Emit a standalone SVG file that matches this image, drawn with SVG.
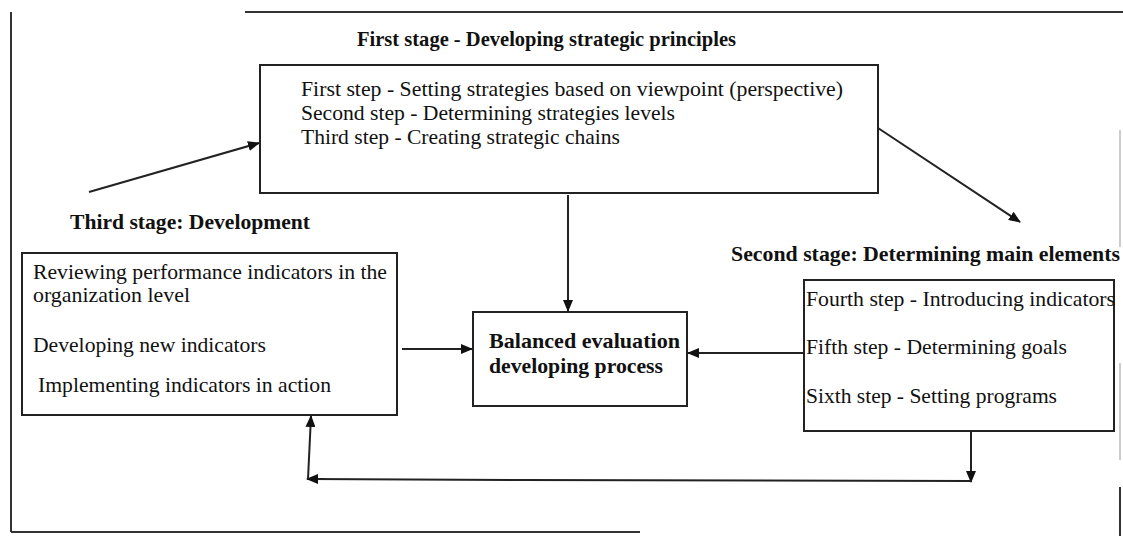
<svg xmlns="http://www.w3.org/2000/svg" width="1123" height="536" viewBox="0 0 1123 536">
<defs>
<marker id="ah" viewBox="0 0 12 10" refX="11" refY="5" markerWidth="12" markerHeight="10" markerUnits="userSpaceOnUse" orient="auto">
<path d="M0,0 L12,5 L0,10 Z" fill="#111"/>
</marker>
<style>
.box{fill:#fff;stroke:#222;stroke-width:2}
.t{font-family:"Liberation Serif","Times New Roman",serif;font-size:21.5px;fill:#111}
.b{font-family:"Liberation Serif","Times New Roman",serif;font-size:21.5px;font-weight:bold;fill:#111}
.c{fill:none;stroke:#222;stroke-width:2}
.f{fill:none;stroke:#333;stroke-width:2}
</style>
</defs>
<rect width="1123" height="536" fill="#fff"/>
<g id="frame">
<line class="f" x1="11" y1="12" x2="11" y2="532"/>
<line class="f" x1="11" y1="532" x2="640" y2="532"/>
<line class="f" x1="245" y1="12" x2="1123" y2="12" stroke="#555"/>
<line x1="1120" y1="130" x2="1120" y2="247" stroke="#bbb" stroke-width="1.5"/>
<line x1="1120" y1="363" x2="1120" y2="460" stroke="#bbb" stroke-width="1.5"/>
<line x1="1120" y1="487" x2="1120" y2="536" stroke="#333" stroke-width="2"/>
</g>
<g id="connectors">
<line class="c" x1="89" y1="192" x2="259" y2="143" marker-end="url(#ah)"/>
<line class="c" x1="878" y1="128" x2="1020" y2="222" marker-end="url(#ah)"/>
<line class="c" x1="568" y1="195" x2="568" y2="311" marker-end="url(#ah)"/>
<line class="c" x1="402" y1="349" x2="472" y2="349" marker-end="url(#ah)"/>
<line class="c" x1="804" y1="353" x2="688" y2="353" marker-end="url(#ah)"/>
<line class="c" x1="971" y1="431" x2="971" y2="482" marker-end="url(#ah)"/>
<polyline class="c" points="971,481 520,480 308,479"/>
<line class="c" x1="325" y1="479" x2="307" y2="479" marker-end="url(#ah)"/>
<line class="c" x1="308" y1="479" x2="311" y2="416" marker-end="url(#ah)"/>
</g>
<g id="stage1">
<text class="b" x="357" y="46" textLength="379" lengthAdjust="spacingAndGlyphs">First stage - Developing strategic principles</text>
<rect class="box" x="260" y="65" width="618" height="128"/>
<text class="t" x="301" y="96" textLength="542" lengthAdjust="spacingAndGlyphs">First step - Setting strategies based on viewpoint (perspective)</text>
<text class="t" x="301" y="120" textLength="374" lengthAdjust="spacingAndGlyphs">Second step - Determining strategies levels</text>
<text class="t" x="301" y="144" textLength="319" lengthAdjust="spacingAndGlyphs">Third step - Creating strategic chains</text>
</g>
<g id="stage3">
<text class="b" x="70" y="229" textLength="240" lengthAdjust="spacingAndGlyphs">Third stage: Development</text>
<rect class="box" x="22" y="253" width="375" height="162"/>
<text class="t" x="33" y="279" textLength="354" lengthAdjust="spacingAndGlyphs">Reviewing performance indicators in the</text>
<text class="t" x="33" y="302" textLength="157" lengthAdjust="spacingAndGlyphs">organization level</text>
<text class="t" x="33" y="352" textLength="233" lengthAdjust="spacingAndGlyphs">Developing new indicators</text>
<text class="t" x="38" y="392" textLength="293" lengthAdjust="spacingAndGlyphs">Implementing indicators in action</text>
</g>
<g id="center">
<rect class="box" x="473" y="312" width="214" height="94"/>
<text class="b" x="489" y="348" textLength="191" lengthAdjust="spacingAndGlyphs">Balanced evaluation</text>
<text class="b" x="489" y="373" textLength="174" lengthAdjust="spacingAndGlyphs">developing process</text>
</g>
<g id="stage2">
<text class="b" x="731" y="261" textLength="389" lengthAdjust="spacingAndGlyphs">Second stage: Determining main elements</text>
<rect class="box" x="804" y="280" width="310" height="151"/>
<text class="t" x="806" y="306" textLength="309" lengthAdjust="spacingAndGlyphs">Fourth step - Introducing indicators</text>
<text class="t" x="806" y="354" textLength="261" lengthAdjust="spacingAndGlyphs">Fifth step - Determining goals</text>
<text class="t" x="806" y="403" textLength="251" lengthAdjust="spacingAndGlyphs">Sixth step - Setting programs</text>
</g>
</svg>
